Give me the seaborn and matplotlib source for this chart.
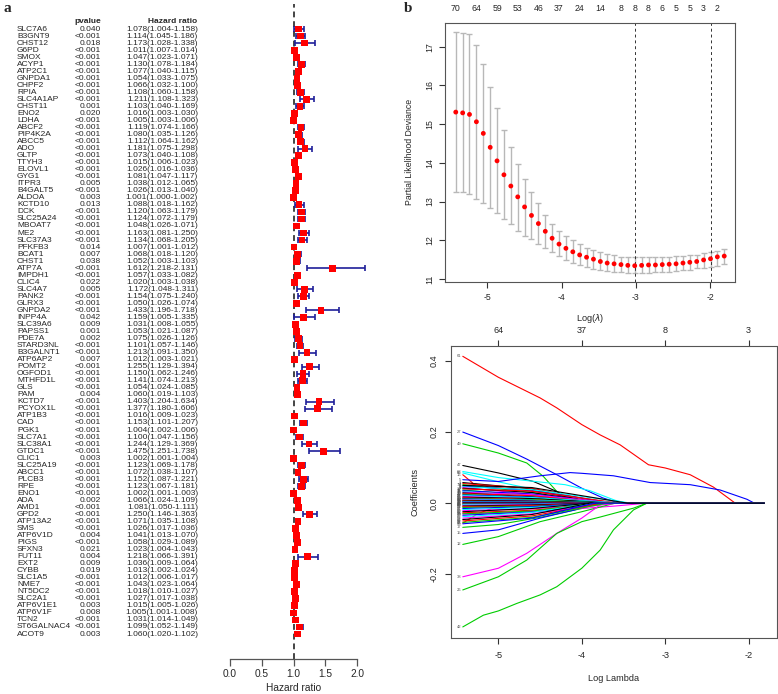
import numpy as np
import pandas as pd
import matplotlib
matplotlib.use("Agg")
import matplotlib.pyplot as plt
from matplotlib import font_manager
import seaborn as sns

# ---------------- data: panel a (univariate Cox forest) ----------------
genes = ["SLC7A6", "B3GNT9", "CHST12", "G6PD", "SMOX", "ACYP1", "ATP2C1", "GNPDA1", "CHPF2", "RPIA",
         "SLC4A1AP", "CHST11", "ENO2", "LDHA", "ABCF2", "PIP4K2A", "ABCC5", "ADO", "GLTP", "TTYH3",
         "ELOVL1", "GYG1", "ITPR3", "B4GALT5", "ALDOA", "KCTD10", "DCK", "SLC25A24", "MBOAT7", "ME2",
         "SLC37A3", "PFKFB3", "BCAT1", "CHST1", "ATP7A", "IMPDH1", "CLIC4", "SLC4A7", "PANK2", "GLRX3",
         "GNPDA2", "INPP4A", "SLC39A6", "PAPSS1", "PDE7A", "STARD3NL", "B3GALNT1", "ATP6AP2", "POMT2", "OGFOD1",
         "MTHFD1L", "GLS", "PAM", "KCTD7", "PCYOX1L", "ATP1B3", "CAD", "PGK1", "SLC7A1", "SLC38A1",
         "GTDC1", "CLIC1", "SLC25A19", "ABCC1", "PLCB3", "RPE", "ENO1", "ADA", "AMD1", "GPD2",
         "ATP13A2", "SMS", "ATP6V1D", "PIGS", "SFXN3", "FUT11", "EXT2", "CYBB", "SLC1A5", "NME7",
         "NT5DC2", "SLC2A1", "ATP6V1E1", "ATP6V1F", "TCN2", "ST6GALNAC4", "ACOT9"]
pvalue = ["0.040", "<0.001", "0.018", "<0.001", "<0.001", "<0.001", "<0.001", "<0.001", "<0.001", "<0.001",
          "<0.001", "0.001", "0.020", "<0.001", "<0.001", "<0.001", "<0.001", "<0.001", "<0.001", "<0.001",
          "<0.001", "<0.001", "0.005", "<0.001", "0.003", "0.013", "<0.001", "<0.001", "<0.001", "<0.001",
          "<0.001", "0.014", "0.007", "0.038", "<0.001", "<0.001", "0.022", "0.005", "<0.001", "<0.001",
          "<0.001", "0.042", "0.009", "0.001", "0.002", "<0.001", "<0.001", "0.007", "<0.001", "<0.001",
          "<0.001", "<0.001", "0.004", "<0.001", "<0.001", "<0.001", "<0.001", "<0.001", "<0.001", "<0.001",
          "<0.001", "0.003", "<0.001", "<0.001", "<0.001", "<0.001", "<0.001", "0.002", "<0.001", "<0.001",
          "<0.001", "<0.001", "0.004", "<0.001", "0.021", "0.004", "0.009", "0.019", "<0.001", "<0.001",
          "<0.001", "<0.001", "0.003", "0.008", "<0.001", "<0.001", "0.003"]
hr = [1.078, 1.114, 1.173, 1.011, 1.047, 1.130, 1.077, 1.054, 1.066, 1.108,
      1.211, 1.103, 1.016, 1.005, 1.119, 1.080, 1.112, 1.181, 1.073, 1.015,
      1.026, 1.081, 1.038, 1.026, 1.001, 1.088, 1.120, 1.124, 1.048, 1.163,
      1.134, 1.007, 1.068, 1.052, 1.612, 1.057, 1.020, 1.172, 1.154, 1.050,
      1.433, 1.159, 1.031, 1.053, 1.075, 1.101, 1.213, 1.012, 1.255, 1.150,
      1.141, 1.054, 1.060, 1.403, 1.377, 1.016, 1.153, 1.004, 1.100, 1.244,
      1.475, 1.002, 1.123, 1.072, 1.152, 1.123, 1.002, 1.066, 1.081, 1.250,
      1.071, 1.026, 1.041, 1.058, 1.023, 1.218, 1.036, 1.013, 1.012, 1.043,
      1.018, 1.027, 1.015, 1.005, 1.031, 1.099, 1.060]
hr_lower = [1.004, 1.045, 1.028, 1.007, 1.023, 1.078, 1.040, 1.033, 1.032, 1.060,
            1.108, 1.040, 1.003, 1.003, 1.074, 1.035, 1.064, 1.075, 1.040, 1.006,
            1.016, 1.047, 1.012, 1.013, 1.000, 1.018, 1.063, 1.072, 1.026, 1.081,
            1.068, 1.001, 1.018, 1.003, 1.218, 1.033, 1.003, 1.048, 1.075, 1.026,
            1.196, 1.005, 1.008, 1.021, 1.026, 1.057, 1.091, 1.003, 1.129, 1.062,
            1.074, 1.024, 1.019, 1.204, 1.180, 1.009, 1.101, 1.002, 1.047, 1.129,
            1.251, 1.001, 1.069, 1.038, 1.087, 1.067, 1.001, 1.024, 1.050, 1.146,
            1.035, 1.017, 1.013, 1.029, 1.004, 1.066, 1.009, 1.002, 1.006, 1.023,
            1.010, 1.017, 1.005, 1.001, 1.014, 1.052, 1.020]
hr_upper = [1.158, 1.186, 1.338, 1.014, 1.071, 1.184, 1.115, 1.075, 1.100, 1.158,
            1.323, 1.169, 1.030, 1.006, 1.166, 1.126, 1.162, 1.298, 1.108, 1.023,
            1.036, 1.117, 1.065, 1.040, 1.002, 1.162, 1.179, 1.179, 1.071, 1.250,
            1.205, 1.012, 1.120, 1.103, 2.131, 1.082, 1.038, 1.311, 1.240, 1.074,
            1.718, 1.335, 1.055, 1.087, 1.126, 1.146, 1.350, 1.021, 1.394, 1.246,
            1.213, 1.085, 1.103, 1.634, 1.606, 1.023, 1.207, 1.006, 1.156, 1.369,
            1.738, 1.004, 1.178, 1.107, 1.221, 1.181, 1.003, 1.109, 1.111, 1.363,
            1.108, 1.036, 1.070, 1.089, 1.043, 1.391, 1.064, 1.024, 1.017, 1.064,
            1.027, 1.038, 1.026, 1.008, 1.049, 1.149, 1.102]
hr_ticks = [0.0, 0.5, 1.0, 1.5, 2.0]

# ---------------- data: panel b top (cross-validation) ----------------
log_lambda = [-5.427, -5.334, -5.242, -5.149, -5.056, -4.963, -4.871, -4.778, -4.685, -4.592,
              -4.500, -4.407, -4.314, -4.221, -4.129, -4.036, -3.943, -3.850, -3.758, -3.665,
              -3.572, -3.479, -3.387, -3.294, -3.201, -3.109, -3.016, -2.923, -2.830, -2.737,
              -2.645, -2.552, -2.459, -2.366, -2.274, -2.181, -2.088, -1.995, -1.903, -1.810]
cv_mean = [15.31, 15.29, 15.25, 15.06, 14.76, 14.40, 14.05, 13.69, 13.40, 13.12,
           12.86, 12.64, 12.43, 12.23, 12.05, 11.90, 11.79, 11.70, 11.62, 11.56,
           11.51, 11.45, 11.41, 11.39, 11.37, 11.35, 11.34, 11.35, 11.36, 11.36,
           11.37, 11.38, 11.39, 11.41, 11.43, 11.45, 11.49, 11.52, 11.57, 11.59]
cv_upper = [17.37, 17.35, 17.32, 17.04, 16.55, 15.95, 15.41, 14.84, 14.41, 13.97,
            13.59, 13.25, 12.95, 12.66, 12.41, 12.23, 12.10, 12.00, 11.89, 11.81,
            11.75, 11.69, 11.64, 11.61, 11.57, 11.56, 11.56, 11.56, 11.56, 11.56,
            11.56, 11.57, 11.58, 11.60, 11.62, 11.63, 11.66, 11.69, 11.73, 11.76]
cv_lower = [13.24, 13.24, 13.19, 13.06, 12.95, 12.83, 12.71, 12.56, 12.41, 12.25,
            12.11, 12.02, 11.90, 11.79, 11.69, 11.58, 11.49, 11.42, 11.35, 11.31,
            11.26, 11.22, 11.20, 11.18, 11.17, 11.15, 11.15, 11.16, 11.16, 11.17,
            11.18, 11.19, 11.21, 11.22, 11.24, 11.27, 11.29, 11.32, 11.34, 11.39]
nzero_index = [0, 3, 6, 9, 12, 15, 18, 21, 24, 26, 28, 30, 32, 34, 36, 38]
nzero_labels = ["70", "64", "59", "53", "46", "37", "24", "14", "8", "8", "8", "6", "5", "5", "3", "2"]
lambda_min_index = 26
lambda_1se_index = 37

# ---------------- data: panel b bottom (coefficient paths) ----------------
major_paths = [
    ("61", "red", [(-5.427, 0.413), (-5.0, 0.354), (-4.5, 0.296), (-4.3, 0.268), (-4.0, 0.221), (-3.78, 0.192),
                   (-3.54, 0.164), (-3.2, 0.108), (-3.0, 0.099), (-2.7, 0.080), (-2.42, 0.045), (-2.16, 0.0), (-1.81, 0.0)]),
    ("27", "blue", [(-5.427, 0.200), (-5.0, 0.162), (-4.66, 0.124), (-4.3, 0.080), (-4.0, 0.042), (-3.75, 0.015),
                    (-3.55, 0.0), (-1.81, 0.0)]),
    ("49", "#00CD00", [(-5.427, 0.167), (-5.0, 0.141), (-4.66, 0.113), (-4.46, 0.075), (-4.30, 0.033), (-4.18, 0.009),
                       (-4.1, 0.0), (-1.81, 0.0)]),
    ("47", "black", [(-5.427, 0.106), (-5.0, 0.085), (-4.58, 0.061), (-4.3, 0.033), (-4.05, 0.0), (-1.81, 0.0)]),
    ("68", "cyan", [(-5.427, 0.089), (-5.0, 0.072), (-4.6, 0.062), (-4.2, 0.052), (-3.9, 0.035), (-3.6, 0.008),
                    (-3.45, 0.0), (-1.81, 0.0)]),
    ("65", "cyan", [(-5.427, 0.085), (-5.0, 0.060), (-4.6, 0.040), (-4.2, 0.015), (-4.0, 0.0), (-1.81, 0.0)]),
    ("16", "red", [(-5.427, 0.080), (-5.3, 0.055), (-5.1, 0.045), (-4.8, 0.040), (-4.5, 0.030), (-4.1, 0.015),
                   (-3.8, 0.0), (-1.81, 0.0)]),
    ("5", "blue", [(-5.427, 0.066), (-5.0, 0.061), (-4.5, 0.077), (-4.14, 0.086), (-4.0, 0.084), (-3.62, 0.077),
                   (-3.18, 0.058), (-2.70, 0.052), (-2.34, 0.037), (-2.02, 0.011), (-1.93, 0.0), (-1.81, 0.0)]),
    ("44", "red", [(-5.427, -0.056), (-5.25, -0.030), (-5.05, -0.012), (-4.6, 0.0), (-1.81, 0.0)]),
    ("17", "#00CD00", [(-5.427, -0.068), (-5.0, -0.060), (-4.5, -0.040), (-4.0, -0.015), (-3.8, 0.0), (-1.81, 0.0)]),
    ("15", "blue", [(-5.427, -0.085), (-5.0, -0.075), (-4.5, -0.042), (-4.1, -0.020), (-3.8, 0.0), (-1.81, 0.0)]),
    ("34", "magenta", [(-5.427, -0.030), (-5.0, -0.028), (-4.5, -0.022), (-4.0, -0.015), (-3.6, -0.008),
                       (-3.22, 0.0), (-1.81, 0.0)]),
    ("12", "#00CD00", [(-5.427, -0.116), (-5.0, -0.094), (-4.5, -0.052), (-4.0, -0.024), (-3.6, 0.0), (-1.81, 0.0)]),
    ("38", "magenta", [(-5.427, -0.207), (-5.0, -0.183), (-4.66, -0.141), (-4.3, -0.085), (-4.0, -0.042),
                       (-3.78, -0.005), (-3.72, 0.0), (-1.81, 0.0)]),
    ("26", "#00CD00", [(-5.427, -0.244), (-5.0, -0.207), (-4.66, -0.160), (-4.3, -0.085), (-4.0, -0.052),
                       (-3.78, -0.039), (-3.38, -0.014), (-3.22, 0.0), (-1.81, 0.0)]),
    ("42", "#00CD00", [(-5.427, -0.348), (-5.18, -0.315), (-5.0, -0.303), (-4.78, -0.282), (-4.5, -0.258),
                       (-4.3, -0.235), (-4.0, -0.183), (-3.78, -0.132), (-3.62, -0.075), (-3.38, -0.019),
                       (-3.22, 0.0), (-1.81, 0.0)]),
]
# small paths: label, colour, value at log lambda -5.427, value at -4.6, log lambda where it reaches 0
small_paths = [
    ("1", "black", 0.058, 0.040, -3.85), ("2", "red", 0.055, 0.042, -3.70), ("4", "#00CD00", 0.052, 0.030, -3.95),
    ("6", "blue", 0.048, 0.036, -3.60), ("7", "cyan", 0.046, 0.038, -3.40), ("8", "magenta", 0.044, 0.025, -3.90),
    ("9", "black", 0.042, 0.030, -3.75), ("10", "red", 0.040, 0.034, -3.55), ("11", "#00CD00", 0.037, 0.022, -3.80),
    ("13", "blue", 0.035, 0.026, -3.65), ("14", "cyan", 0.033, 0.020, -3.85), ("18", "magenta", 0.031, 0.024, -3.60),
    ("19", "black", 0.029, 0.018, -3.90), ("20", "red", 0.027, 0.021, -3.70), ("21", "#00CD00", 0.025, 0.015, -3.80),
    ("22", "blue", 0.023, 0.017, -3.65), ("23", "cyan", 0.021, 0.016, -3.50), ("24", "magenta", 0.019, 0.012, -3.75),
    ("25", "black", 0.017, 0.013, -3.60), ("28", "red", 0.015, 0.010, -3.85), ("29", "#00CD00", 0.013, 0.010, -3.70),
    ("30", "blue", 0.012, 0.008, -3.95), ("31", "cyan", 0.010, 0.008, -3.60), ("32", "magenta", 0.009, 0.006, -3.80),
    ("33", "black", 0.008, 0.006, -3.50), ("35", "red", 0.006, 0.004, -3.90), ("36", "#00CD00", 0.005, 0.004, -3.70),
    ("37", "blue", 0.004, 0.003, -3.80), ("39", "cyan", 0.003, 0.002, -3.60), ("40", "magenta", 0.002, 0.002, -3.90),
    ("41", "black", 0.001, 0.001, -3.75), ("43", "red", -0.001, -0.001, -3.85), ("45", "#00CD00", -0.002, -0.002, -3.65),
    ("46", "blue", -0.003, -0.002, -3.80), ("48", "cyan", -0.004, -0.003, -3.70), ("50", "magenta", -0.006, -0.004, -3.55),
    ("51", "black", -0.008, -0.005, -3.90), ("52", "red", -0.010, -0.007, -3.75), ("53", "#00CD00", -0.012, -0.009, -3.60),
    ("54", "blue", -0.015, -0.010, -3.85), ("55", "cyan", -0.018, -0.012, -3.70), ("56", "magenta", -0.021, -0.016, -3.55),
    ("57", "black", -0.024, -0.015, -3.90), ("58", "red", -0.027, -0.020, -3.70), ("59", "#00CD00", -0.030, -0.022, -3.80),
    ("60", "blue", -0.034, -0.025, -3.65), ("62", "cyan", -0.038, -0.026, -3.85), ("63", "magenta", -0.042, -0.030, -3.60),
    ("64", "black", -0.046, -0.032, -3.90), ("66", "red", -0.050, -0.036, -3.75), ("67", "#00CD00", -0.054, -0.040, -3.70),
    ("69", "blue", -0.058, -0.042, -3.85), ("70", "black", 0.050, 0.044, -3.45),
]
coef_top_ticks = [-5, -4, -3, -2]
coef_top_labels = ["64", "37", "8", "3"]

# ---------------- figure ----------------
W, H = 778, 694
sns.set_theme(style="ticks")
plt.rcParams["font.family"] = ["Liberation Sans", "DejaVu Sans"]
plt.rcParams["axes.unicode_minus"] = False
fig = plt.figure(figsize=(W / 100, H / 100), dpi=100)


def has_font(name):
    try:
        font_manager.findfont(font_manager.FontProperties(family=name), fallback_to_default=False)
        return True
    except Exception:
        return False


if has_font("Liberation Sans Narrow"):
    table_font, tfs = ["Liberation Sans Narrow", "DejaVu Sans"], 6.8
else:
    table_font, tfs = ["Liberation Sans", "DejaVu Sans"], 6.0


def px_axes(l, t, r, b):
    return fig.add_axes([l / W, 1 - b / H, (r - l) / W, (b - t) / H])


# ---------- panel a ----------
y_top, y_bot = -3.554, 89.55
ax_t = px_axes(0, 4, 230, 659)
ax_t.set_xlim(0, 230)
ax_t.set_ylim(y_bot, y_top)
ax_t.axis("off")
ax_t.text(101, -1, "pvalue", ha="right", va="center", fontsize=tfs, fontweight="bold", family=table_font)
ax_t.text(197, -1, "Hazard ratio", ha="right", va="center", fontsize=tfs, fontweight="bold", family=table_font)
for i, g in enumerate(genes):
    ax_t.text(17, i, g, ha="left", va="center", fontsize=tfs, family=table_font)
    ax_t.text(101, i, pvalue[i], ha="right", va="center", fontsize=tfs, family=table_font)
    ax_t.text(198, i, f"{hr[i]:.3f}({hr_lower[i]:.3f}-{hr_upper[i]:.3f})", ha="right", va="center",
              fontsize=tfs, family=table_font)

df_f = pd.DataFrame({"gene": genes, "row": np.arange(len(genes)), "hr": hr, "lo": hr_lower, "hi": hr_upper})
ax_f = px_axes(230, 4, 357, 659)
ax_f.axvline(1.0, color="#444444", ls=(0, (3, 2)), lw=1.4, zorder=1)
eb = ax_f.errorbar(df_f["hr"], df_f["row"], xerr=[df_f["hr"] - df_f["lo"], df_f["hi"] - df_f["hr"]],
                   fmt="none", ecolor="#1f1f9a", elinewidth=1.2, capsize=2.0, capthick=1.2, zorder=2)
for art in eb.get_children():
    art.set_clip_on(False)
sns.scatterplot(data=df_f, x="hr", y="row", marker="s", s=24, color="red", edgecolor="none",
                ax=ax_f, zorder=3, clip_on=False, legend=False)
ax_f.set_xlim(0, 2)
ax_f.set_ylim(y_bot, y_top)
for sp in ["left", "right", "top"]:
    ax_f.spines[sp].set_visible(False)
ax_f.spines["bottom"].set_color("#555555")
ax_f.spines["bottom"].set_linewidth(0.9)
ax_f.set_yticks([])
ax_f.set_ylabel("")
ax_f.set_xticks(hr_ticks)
ax_f.set_xticklabels([f"{v:.1f}" for v in hr_ticks])
ax_f.tick_params(axis="x", direction="out", length=5, width=0.9, color="#555555", labelsize=7.3, pad=2)
ax_f.set_xlabel("Hazard ratio", fontsize=7.3, labelpad=3)

fig.text(3 / W, 1 - 9 / H, "a", fontsize=11, fontweight="bold", family=["Liberation Serif", "DejaVu Serif"],
         va="center", ha="left")
fig.text(404 / W, 1 - 8 / H, "b", fontsize=11, fontweight="bold", family=["Liberation Serif", "DejaVu Serif"],
         va="center", ha="left")

# ---------- panel b top ----------
bfs = 6.3
ll = np.array(log_lambda)
m = np.array(cv_mean)
ax_cv = px_axes(445, 22.7, 735, 282)
ax_cv.errorbar(ll, m, yerr=[m - np.array(cv_lower), np.array(cv_upper) - m], fmt="none",
               ecolor="#b8b8b8", elinewidth=1.0, capsize=2.2, capthick=1.0, zorder=1)
sns.scatterplot(x=ll, y=m, color="red", s=12, edgecolor="none", ax=ax_cv, zorder=3, legend=False)
ax_cv.axvline(log_lambda[lambda_min_index], color="#333333", ls=(0, (3, 3)), lw=0.7)
ax_cv.axvline(log_lambda[lambda_1se_index], color="#333333", ls=(0, (3, 3)), lw=0.7)
ax_cv.set_xlim(-5.572, -1.665)
ax_cv.set_ylim(10.92, 17.62)
ax_cv.set_xticks([-5, -4, -3, -2])
ax_cv.set_yticks([11, 12, 13, 14, 15, 16, 17])
for lab in ax_cv.get_yticklabels():
    lab.set_rotation(90)
    lab.set_va("center")
ax_cv.tick_params(direction="out", length=4, width=0.8, labelsize=bfs, pad=4, color="#333333")
for sp in ax_cv.spines.values():
    sp.set_color("#555555")
    sp.set_linewidth(0.8)
ax_cv.set_xlabel(r"Log($\lambda$)", fontsize=bfs + 0.3, labelpad=7)
ax_cv.set_ylabel("Partial Likelihood Deviance", fontsize=bfs, labelpad=8)
sec = ax_cv.secondary_xaxis("top")
sec.set_xticks([log_lambda[i] for i in nzero_index], labels=nzero_labels)
sec.tick_params(length=0, labelsize=bfs, pad=7)
sec.spines["top"].set_visible(False)

# ---------- panel b bottom ----------
rows = []
palette = {}
for lab, col, pts in major_paths:
    palette[lab] = col
    for x, y in pts:
        rows.append((lab, x, y))
for lab, col, v0, v1, xz in small_paths:
    palette[lab] = col
    for x, y in [(-5.427, v0), (-4.6, v1), (xz, 0.0), (-1.81, 0.0)]:
        rows.append((lab, x, y))
df_c = pd.DataFrame(rows, columns=["var", "loglam", "coef"])

ax_c = px_axes(450.7, 346, 776.5, 638.3)
sns.lineplot(data=df_c, x="loglam", y="coef", hue="var", palette=palette, estimator=None, sort=False,
             units="var", legend=False, lw=0.8, ax=ax_c)
ax_c.set_xlim(-5.572, -1.665)
ax_c.set_ylim(-0.380, 0.442)
ax_c.set_xticks([-5, -4, -3, -2])
ax_c.set_yticks([-0.2, 0.0, 0.2, 0.4])
ax_c.set_yticklabels(["-0.2", "0.0", "0.2", "0.4"])
for lab in ax_c.get_yticklabels():
    lab.set_rotation(90)
    lab.set_va("center")
ax_c.tick_params(direction="out", length=4, width=0.8, labelsize=bfs + 0.3, pad=5, color="#333333")
for sp in ax_c.spines.values():
    sp.set_color("#555555")
    sp.set_linewidth(0.8)
ax_c.set_xlabel("Log Lambda", fontsize=bfs + 0.3, labelpad=10)
ax_c.set_ylabel("Coefficients", fontsize=bfs + 0.3, labelpad=7)
sec2 = ax_c.secondary_xaxis("top")
sec2.set_xticks(coef_top_ticks, labels=coef_top_labels)
sec2.tick_params(direction="out", length=4, width=0.8, labelsize=bfs + 0.3, pad=4, color="#333333")
sec2.spines["top"].set_visible(False)
starts = df_c.groupby("var", sort=False).first()
for lab, r in starts.iterrows():
    ax_c.text(-5.445, r["coef"], lab, ha="right", va="center", fontsize=3.0, color="#555555")

fig.savefig("out.png", dpi=100)
